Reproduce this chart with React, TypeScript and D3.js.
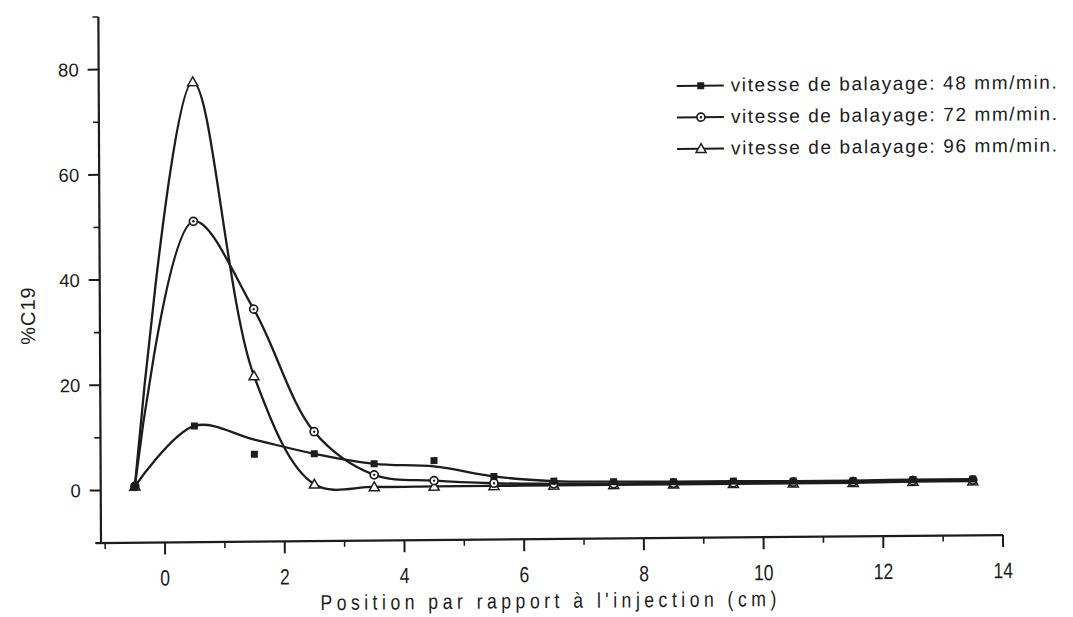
import React from 'react';
import * as d3 from 'd3';

// Sampling positions along the column (cm from the injection point)
const positions = [-0.5, 0.5, 1.5, 2.5, 3.5, 4.5, 5.5, 6.5, 7.5, 8.5, 9.5, 10.5, 11.5, 12.5, 13.5];

// %C19 measured at each position, one array per sweep speed
const vit48 = [0.7, 12.1, 6.6, 6.6, 4.6, 5.1, 2.0, 1.0, 0.8, 0.7, 0.7, 0.6, 0.6, 0.7, 0.7];
// smoothed trend drawn through the 48 mm/min points
const vit48Trend = [0.7, 12.1, 9.4, 6.6, 4.6, 4.0, 2.0, 1.0, 0.8, 0.7, 0.7, 0.6, 0.6, 0.7, 0.7];
const vit72 = [0.7, 51.0, 34.2, 10.8, 2.5, 1.3, 0.7, 0.5, 0.4, 0.4, 0.4, 0.4, 0.4, 0.5, 0.5];
const vit96 = [0.7, 77.5, 21.5, 0.8, 0.2, 0.2, 0.2, 0.2, 0.2, 0.2, 0.2, 0.2, 0.2, 0.3, 0.3];

const xTicks = [0, 2, 4, 6, 8, 10, 12, 14];
const xMinorTicks = [-1, 1, 3, 5, 7, 9, 11, 13];
const yTicks = [0, 20, 40, 60, 80];
const yMinorTicks = [-10, 10, 30, 50, 70, 90];

const legendLabels = [
  'vitesse de balayage: 48 mm/min.',
  'vitesse de balayage: 72 mm/min.',
  'vitesse de balayage: 96 mm/min.',
];

const W = 1073;
const H = 617;
const INK = '#1c1c1c';
const FONT = '"Liberation Sans", Arial, Helvetica, sans-serif';

const x = d3.scaleLinear().domain([-1.07, 14]).range([101, 1003]);
const y = d3.scaleLinear().domain([-10, 90]).range([543, 17]);

const line = d3
  .line<[number, number]>()
  .x((d) => x(d[0]))
  .y((d) => y(d[1]))
  .curve(d3.curveCatmullRom.alpha(0.5));

const pts = (vals: number[]) => positions.map((p, i) => [p, vals[i]] as [number, number]);

type Kind = 'square' | 'circle' | 'triangle';

function Marker({ kind, cx, cy }: { kind: Kind; cx: number; cy: number }) {
  if (kind === 'square') {
    return <rect x={cx - 3.5} y={cy - 3.5} width={7} height={7} fill={INK} />;
  }
  if (kind === 'circle') {
    return (
      <g>
        <circle cx={cx} cy={cy} r={4} fill="#fff" stroke={INK} strokeWidth={1.7} />
        <circle cx={cx} cy={cy} r={1.2} fill={INK} />
      </g>
    );
  }
  const s = 5;
  return (
    <path
      d={`M${cx},${cy - s}L${cx + s},${cy + s * 0.75}L${cx - s},${cy + s * 0.75}Z`}
      fill="#fff"
      stroke={INK}
      strokeWidth={1.5}
    />
  );
}

const series: { kind: Kind; marks: number[]; curve: number[] }[] = [
  { kind: 'triangle', marks: vit96, curve: vit96 },
  { kind: 'circle', marks: vit72, curve: vit72 },
  { kind: 'square', marks: vit48, curve: vit48Trend },
];

const legendKinds: Kind[] = ['square', 'circle', 'triangle'];

export default function App() {
  const x0 = x.range()[0];
  const y0 = y.range()[0];
  // slight tilt of the whole drawing around the axes' corner
  const tilt = `translate(${x0},${y0}) matrix(1,-0.0088,0.005,1,0,0) translate(${-x0},${-y0})`;

  return (
    <svg width={W} height={H} style={{ position: 'absolute', left: 0, top: 0, background: '#fff' }}>
      <rect width={W} height={H} fill="#fff" />
      <g transform={tilt}>
        {/* axes */}
        <line x1={x0} x2={x0} y1={y(90)} y2={y0 + 1} stroke={INK} strokeWidth={2.2} />
        <line x1={x0 - 5} x2={x(14)} y1={y0} y2={y0} stroke={INK} strokeWidth={2.2} />

        {yTicks.map((t) => (
          <g key={`y${t}`}>
            <line x1={x0 - 11} x2={x0} y1={y(t)} y2={y(t)} stroke={INK} strokeWidth={2} />
            <text
              x={x0 - 20}
              y={y(t)}
              dy="0.36em"
              textAnchor="end"
              fontFamily={FONT}
              fontSize={18.5}
              fill={INK}
            >
              {t}
            </text>
          </g>
        ))}
        {yMinorTicks.map((t) => (
          <line key={`ym${t}`} x1={x0 - 6} x2={x0} y1={y(t)} y2={y(t)} stroke={INK} strokeWidth={1.6} />
        ))}

        {xTicks.map((t) => (
          <g key={`x${t}`}>
            <line x1={x(t)} x2={x(t)} y1={y0} y2={y0 + 12} stroke={INK} strokeWidth={2} />
            <text
              transform={`translate(${x(t)},${y0 + 43}) scale(0.8,1)`}
              textAnchor="middle"
              fontFamily={FONT}
              fontSize={22}
              fill={INK}
            >
              {t}
            </text>
          </g>
        ))}
        {xMinorTicks.map((t) => (
          <line key={`xm${t}`} x1={x(t)} x2={x(t)} y1={y0} y2={y0 + 6} stroke={INK} strokeWidth={1.6} />
        ))}

        <text
          transform="translate(548,612) scale(0.82,1)"
          textAnchor="middle"
          fontFamily={FONT}
          fontSize={21.5}
          fill={INK}
          textLength={556}
          lengthAdjust="spacing"
        >
          Position par rapport à l'injection (cm)
        </text>
        <text
          transform={`translate(36,315) rotate(-90)`}
          textAnchor="middle"
          fontFamily={FONT}
          fontSize={20}
          fill={INK}
          letterSpacing={1}
        >
          %C19
        </text>

        {/* curves */}
        {series.map((s) => (
          <path
            key={`c${s.kind}`}
            d={line(pts(s.curve)) ?? ''}
            fill="none"
            stroke={INK}
            strokeWidth={2.3}
            strokeLinejoin="round"
          />
        ))}
        {/* markers */}
        {series.map((s) =>
          positions.map((p, i) => (
            <Marker key={`${s.kind}${i}`} kind={s.kind} cx={x(p)} cy={y(s.marks[i])} />
          ))
        )}

        {/* legend */}
        {legendLabels.map((label, i) => {
          const by = 97 + i * 31.5;
          const ly = by - 6;
          return (
            <g key={label}>
              <line x1={679} x2={726} y1={ly} y2={ly} stroke={INK} strokeWidth={2} />
              <Marker kind={legendKinds[i]} cx={703} cy={ly} />
              <text
                x={733}
                y={by}
                fontFamily={FONT}
                fontSize={19}
                fill={INK}
                textLength={326}
                lengthAdjust="spacing"
              >
                {label}
              </text>
            </g>
          );
        })}
      </g>
    </svg>
  );
}
